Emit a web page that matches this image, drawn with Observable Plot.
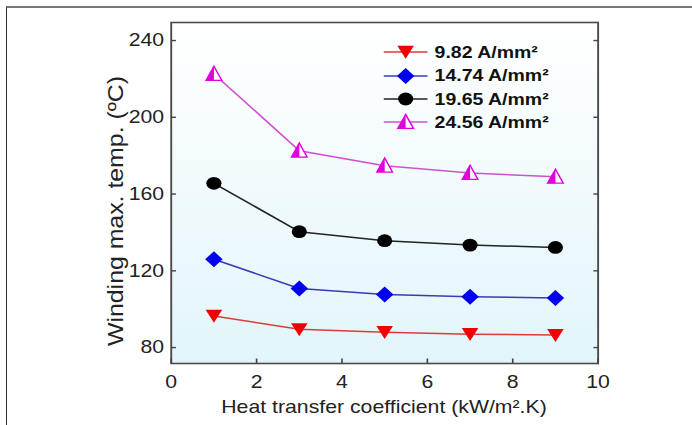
<!DOCTYPE html>
<html><head><meta charset="utf-8">
<script src="https://cdn.jsdelivr.net/npm/d3@7"></script>
<script src="https://cdn.jsdelivr.net/npm/@observablehq/plot@0.6"></script>
<style>
html,body{margin:0;padding:0;background:#fff;}
#page{position:relative;width:692px;height:425px;overflow:hidden;background:#fff;}
#border{position:absolute;left:6px;top:6px;width:700px;height:430px;border-left:1.5px solid #333;border-top:2px solid #777;}
#stage{position:absolute;left:0;top:0;width:586px;height:425px;transform:scaleX(1.1809);transform-origin:0 0;font-family:"Liberation Sans",Arial,sans-serif;}
#legend{position:absolute;left:0;top:0;}
.row{position:absolute;left:322px;height:22px;display:flex;align-items:center;white-space:nowrap;}
.row span{font-weight:bold;font-size:16.5px;margin-left:4px;color:#111;white-space:nowrap;}
</style>
</head><body>
<div id="page"><div id="border"></div><div id="stage"><div id="legend"></div></div></div>
<script>
const coefficients = [1, 3, 5, 7, 9];
const seriesNames = ["9.82 A/mm²", "14.74 A/mm²", "19.65 A/mm²", "24.56 A/mm²"];
const temp982 = [96.5, 89.5, 88, 87, 86.5];
const temp1474 = [126, 110.8, 107.7, 106.5, 105.8];
const temp1965 = [165.6, 140.4, 135.7, 133.4, 132.2];
const temp2456 = [222.6, 182.6, 174.8, 171, 169];
const xTicks = [0, 2, 4, 6, 8, 10];
const yTicks = [80, 120, 160, 200, 240];
const xLabel = "Heat transfer coefficient (kW/m².K)";
const yLabel = "Winding max. temp. (ºC)";

const seriesValues = [temp982, temp1474, temp1965, temp2456];
const markerColors = ["#f00000", "#0000f0", "#000000", "#e000e0"];
const lineColors = ["#dd3b3b", "#3a3ab4", "#222222", "#d050d0"];

// custom symbols
const triDown = {draw(c){c.moveTo(-7,-6.2);c.lineTo(7,-6.2);c.lineTo(0,6.8);c.closePath();}};
const diamond = {draw(c){c.moveTo(0,-8);c.lineTo(7.4,0);c.lineTo(0,8);c.lineTo(-7.4,0);c.closePath();}};
const circ = {draw(c){c.moveTo(6.4,0);c.arc(0,0,6.4,0,2*Math.PI);}};
const triUp = {draw(c){c.moveTo(0,-7.6);c.lineTo(6.6,6.4);c.lineTo(-6.6,6.4);c.closePath();}};
const triUpLeft = {draw(c){c.moveTo(0,-7.6);c.lineTo(0,6.4);c.lineTo(-6.6,6.4);c.closePath();}};
const tickRight = {draw(c){c.moveTo(0,0);c.lineTo(4,0);}};
const tickLeft = {draw(c){c.moveTo(0,0);c.lineTo(-4,0);}};
const tickUp = {draw(c){c.moveTo(0,0);c.lineTo(0,-5);}};

const rows = [];
seriesValues.forEach((vals, i) => vals.forEach((v, j) => rows.push({series: seriesNames[i], idx: i, h: coefficients[j], t: v})));
const bySeries = i => rows.filter(r => r.idx === i);

const marks = [
  Plot.frame({fill: "url(#bgGrad)", stroke: "none"}),
];
seriesValues.forEach((_, i) => marks.push(Plot.line(bySeries(i), {x: "h", y: "t", stroke: lineColors[i], strokeWidth: 1.5})));
marks.push(Plot.dot(bySeries(0), {x: "h", y: "t", symbol: triDown, fill: markerColors[0], stroke: "none"}));
marks.push(Plot.dot(bySeries(1), {x: "h", y: "t", symbol: diamond, fill: markerColors[1], stroke: "none"}));
marks.push(Plot.dot(bySeries(2), {x: "h", y: "t", symbol: circ, fill: markerColors[2], stroke: "none"}));
marks.push(Plot.dot(bySeries(3), {x: "h", y: "t", symbol: triUp, fill: "#ffffff", stroke: markerColors[3], strokeWidth: 1.3}));
marks.push(Plot.dot(bySeries(3), {x: "h", y: "t", symbol: triUpLeft, fill: markerColors[3], stroke: "none"}));
marks.push(Plot.frame({stroke: "#4a4a4a", strokeWidth: 1.6}));
marks.push(Plot.dot(yTicks, {y: d => d, frameAnchor: "left", symbol: tickRight, stroke: "#444", strokeWidth: 1.4, fill: "none"}));
marks.push(Plot.dot(yTicks, {y: d => d, frameAnchor: "right", symbol: tickLeft, stroke: "#444", strokeWidth: 1.4, fill: "none"}));
marks.push(Plot.dot(xTicks, {x: d => d, frameAnchor: "bottom", symbol: tickUp, stroke: "#444", strokeWidth: 1.4, fill: "none"}));
marks.push(Plot.axisY(yTicks, {tickSize: 0, tickPadding: 6, label: null, fontSize: 18, fill: "#222"}));
marks.push(Plot.axisX(xTicks, {tickSize: 0, tickPadding: 12, label: null, fontSize: 18, fill: "#222"}));

const chart = Plot.plot({
  width: 586, height: 425,
  marginLeft: 144.5, marginRight: 80, marginTop: 22, marginBottom: 62,
  x: {domain: [0, 10]},
  y: {domain: [71.7, 249.4]},
  style: {fontFamily: "'Liberation Sans', Arial, sans-serif", fontSize: "18px", background: "transparent", overflow: "visible"},
  marks
});

const svg = d3.select(chart);
const grad = svg.insert("defs", ":first-child").append("linearGradient")
  .attr("id", "bgGrad").attr("x1", 0).attr("y1", 0).attr("x2", 0).attr("y2", 1);
grad.append("stop").attr("offset", "0%").attr("stop-color", "#ffffff");
grad.append("stop").attr("offset", "100%").attr("stop-color", "#e2f5fa");

svg.append("text").attr("x", 325.2).attr("y", 413).attr("text-anchor", "middle")
  .attr("font-size", 18).attr("fill", "#222").text(xLabel);
svg.append("text").attr("transform", "translate(104,211) rotate(-90)").attr("text-anchor", "middle")
  .attr("font-size", 19).attr("fill", "#222")
  .attr("textLength", 270).attr("lengthAdjust", "spacingAndGlyphs").text(yLabel);

document.getElementById("stage").prepend(chart);

// legend
const legendY = [52, 75.5, 99, 122];
const legendSymbols = [triDown, diamond, circ, triUp];
const leg = d3.select("#legend");
seriesNames.forEach((name, i) => {
  const row = leg.append("div").attr("class", "row").style("top", (legendY[i] - 11) + "px");
  const s = row.append("svg").attr("width", 42).attr("height", 22);
  s.append("line").attr("x1", 3).attr("x2", 40).attr("y1", 11).attr("y2", 11).attr("stroke", lineColors[i]).attr("stroke-width", 1.5);
  const p = d3.path(); legendSymbols[i].draw(p);
  const g = s.append("g").attr("transform", "translate(21.5,11)");
  if (i === 3) {
    g.append("path").attr("d", p.toString()).attr("fill", "#fff").attr("stroke", markerColors[3]).attr("stroke-width", 1.3);
    const p2 = d3.path(); triUpLeft.draw(p2);
    g.append("path").attr("d", p2.toString()).attr("fill", markerColors[3]);
  } else {
    g.append("path").attr("d", p.toString()).attr("fill", markerColors[i]);
  }
  row.append("span").text(name);
});
</script>
</body></html>
